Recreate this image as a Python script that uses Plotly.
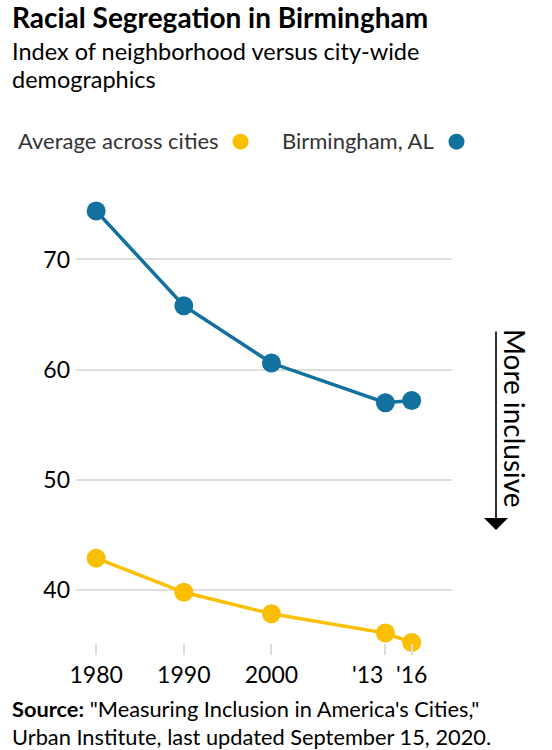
import plotly.graph_objects as go

# data
years = [1980, 1990, 2000, 2013, 2016]
year_labels = ["1980", "1990", "2000", "", "'16"]
birmingham = [74.4, 65.8, 60.6, 57.0, 57.2]
average = [42.9, 39.8, 37.85, 36.1, 35.25]
y_ticks = [40, 50, 60, 70]

BLUE = "#12719e"
YELLOW = "#f9bf00"
FONT = "Lato"

W, H = 552, 750
L, R, T, B = 76, 100, 190, 107
PW, PH = W - L - R, H - T - B


def px(x):
    return (x - L) / PW


def py(y):
    return (H - B - y) / PH


fig = go.Figure()
fig.add_trace(go.Scatter(x=years, y=average, mode="lines+markers", name="Average across cities",
                         line=dict(color=YELLOW, width=3.5), marker=dict(size=19, color=YELLOW),
                         cliponaxis=False, hoverinfo="x+y"))
fig.add_trace(go.Scatter(x=years, y=birmingham, mode="lines+markers", name="Birmingham, AL",
                         line=dict(color=BLUE, width=3.5), marker=dict(size=19, color=BLUE),
                         cliponaxis=False, hoverinfo="x+y"))

# text lines: (text, left x, centre y, size, colour)
lines = [
    ("<b>Racial Segregation in Birmingham</b>", 10, 17, 28, "#000"),
    ("Index of neighborhood versus city-wide", 10, 51.3, 23.5, "#000"),
    ("demographics", 10, 79.3, 23.5, "#000"),
    ("Average across cities", 16, 140, 22, "#333"),
    ("Birmingham, AL", 280, 140, 22, "#333"),
    ("<b>Source:</b> \"Measuring Inclusion in America's Cities,\"<br>"
     "Urban Institute, last updated September 15, 2020.", 10, 722, 21.8, "#000"),
]
annots = []
for txt, x, y, size, col in lines:
    annots.append(dict(text=txt, x=px(x), y=py(y), xref="paper", yref="paper",
                       xanchor="left", yanchor="middle", align="left", showarrow=False,
                       font=dict(size=size, color=col)))

# the '13 label sits right-aligned on its tick so it clears '16
annots.append(dict(text="'13", x=2013, xref="x", y=py(674), yref="paper",
                   xanchor="right", yanchor="middle", showarrow=False,
                   font=dict(size=23, color="#000")))

# arrow and label on the right
annots.append(dict(text="", x=px(496), y=py(530), xref="paper", yref="paper", showarrow=True,
                   ax=0, ay=-200, arrowhead=1, arrowsize=2.5, arrowwidth=1.6, arrowcolor="#000"))
annots.append(dict(text="More inclusive", x=px(515), y=py(418), xref="paper", yref="paper",
                   textangle=90, showarrow=False, xanchor="center", yanchor="middle",
                   font=dict(size=28, color="#000")))

shapes = []
for cx, col in [(240.5, YELLOW), (456.5, BLUE)]:
    shapes.append(dict(type="circle", xref="paper", yref="paper",
                       x0=px(cx - 8), x1=px(cx + 8), y0=py(149.7), y1=py(133.7),
                       fillcolor=col, line=dict(width=0)))

fig.update_layout(
    width=W, height=H,
    margin=dict(l=L, r=R, t=T, b=B),
    plot_bgcolor="white", paper_bgcolor="white",
    font=dict(family=FONT, color="#000"),
    showlegend=False,
    annotations=annots,
    shapes=shapes,
)
fig.update_xaxes(range=[1977.7, 2020.6], tickvals=years, ticktext=year_labels, tickangle=0,
                 showgrid=False, zeroline=False, showline=False,
                 ticks="outside", ticklen=11, tickwidth=2, tickcolor="#dddddd",
                 tickfont=dict(size=23, color="#000"))
fig.update_yaxes(range=[35.2, 76.3], tickvals=y_ticks, showgrid=True, gridcolor="#dedede",
                 gridwidth=1.5, zeroline=False, showline=False, ticks="", ticklabelstandoff=5,
                 tickfont=dict(size=23, color="#000"))

fig.write_html("out.html", config={"displayModeBar": False},
               post_script="document.body.style.margin='0';")
